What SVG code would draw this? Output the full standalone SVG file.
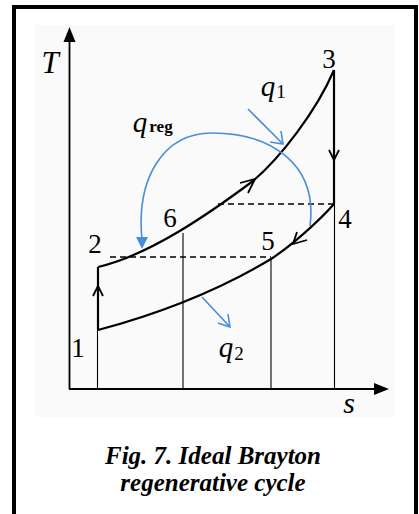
<svg xmlns="http://www.w3.org/2000/svg" width="419" height="514" viewBox="0 0 419 514">
<defs>
<style>
.lbl{font-family:"Liberation Serif","DejaVu Serif",serif;fill:#000;text-anchor:middle}
.it{font-style:italic}
.curve{fill:none;stroke:#000;stroke-width:2.2}
.thin{fill:none;stroke:#000;stroke-width:1.1}
.dash{fill:none;stroke:#000;stroke-width:1.3;stroke-dasharray:6 4}
.blue{fill:none;stroke:#4a8ed8;stroke-width:1.6}
.chev{fill:none;stroke:#000;stroke-width:1.8}
.cap{font-family:"Liberation Serif","DejaVu Serif",serif;font-size:25px;font-weight:bold;font-style:italic;text-anchor:middle;fill:#000}
</style>
</defs>
<rect x="0" y="0" width="419" height="514" fill="#fff"/>
<rect x="35" y="25" width="360" height="392" fill="#fafafa"/>
<rect x="14" y="7" width="402" height="520" fill="none" stroke="#000" stroke-width="4"/>
<g id="axes">
<line x1="69.5" y1="389" x2="69.5" y2="40" stroke="#000" stroke-width="1.8"/>
<polygon points="69.5,27 63.5,42 75.5,42" fill="#000"/>
<line x1="69" y1="389" x2="376" y2="389" stroke="#000" stroke-width="1.8"/>
<polygon points="389,389 374,383 374,395" fill="#000"/>
<text class="lbl it" x="50" y="73" style="font-size:31px">T</text>
<text class="lbl it" x="349" y="413" style="font-size:30px">s</text>
</g>
<g id="connectors">
<line class="thin" x1="97.5" y1="330" x2="97.5" y2="389"/>
<line class="thin" x1="183" y1="233" x2="183" y2="389"/>
<line class="thin" x1="271" y1="259" x2="271" y2="389"/>
<line class="thin" x1="334.5" y1="204" x2="334.5" y2="389"/>
<line class="dash" x1="218" y1="204" x2="334" y2="204"/>
<line class="dash" x1="110" y1="257" x2="271" y2="257"/>
<path class="curve" d="M98,330 L98,267"/>
<path class="curve" d="M98,267 C150,255 210,213 253,181 C280,158 316,112 334,70"/>
<path class="curve" d="M334,70 L334,204"/>
<path class="curve" d="M98,330 C158,314 216,292 271,259 C291,246 318,222 334,204"/>
<path class="chev" d="M93,296 L98,286 L103,296"/>
<path class="chev" d="M329,150 L334,160 L339,150"/>
<path class="chev" d="M240,183 L255,179 L248,193"/>
<path class="chev" d="M297,232 L293,244 L307,240"/>
<path class="blue" d="M248,109 L283,144 M270,142 L283,144 L281,131"/>
<path class="blue" d="M202,297 L230,327 M218,323 L230,327 L228,314"/>
<path class="blue" d="M310,226 C318,165 272,133 212,133 C162,133 136,180 142,240"/>
<polygon points="142,249 136,237 148,237" fill="#4a8ed8"/>
</g>
<g id="n1"><text class="lbl" x="78" y="357" style="font-size:27px">1</text></g>
<g id="n2"><text class="lbl" x="95" y="253" style="font-size:27px">2</text></g>
<g id="n3"><text class="lbl" x="329" y="68" style="font-size:27px">3</text></g>
<g id="n4"><text class="lbl" x="345" y="228" style="font-size:27px">4</text></g>
<g id="n5"><text class="lbl" x="268" y="250" style="font-size:27px">5</text></g>
<g id="n6"><text class="lbl" x="170" y="227" style="font-size:27px">6</text></g>
<g id="q1"><text class="lbl it" x="268" y="96" style="font-size:29px">q</text><text class="lbl" x="281" y="98" style="font-size:19px">1</text></g>
<g id="qreg"><text class="lbl it" x="140" y="132" style="font-size:29px">q</text><text class="lbl" x="161" y="132" style="font-size:17px;font-weight:bold">reg</text></g>
<g id="q2"><text class="lbl it" x="226" y="357" style="font-size:29px">q</text><text class="lbl" x="239" y="360" style="font-size:19px">2</text></g>
<g id="caption">
<text class="cap" x="213" y="464">Fig. 7. Ideal Brayton</text>
<text class="cap" x="213" y="491">regenerative cycle</text>
</g>
</svg>
